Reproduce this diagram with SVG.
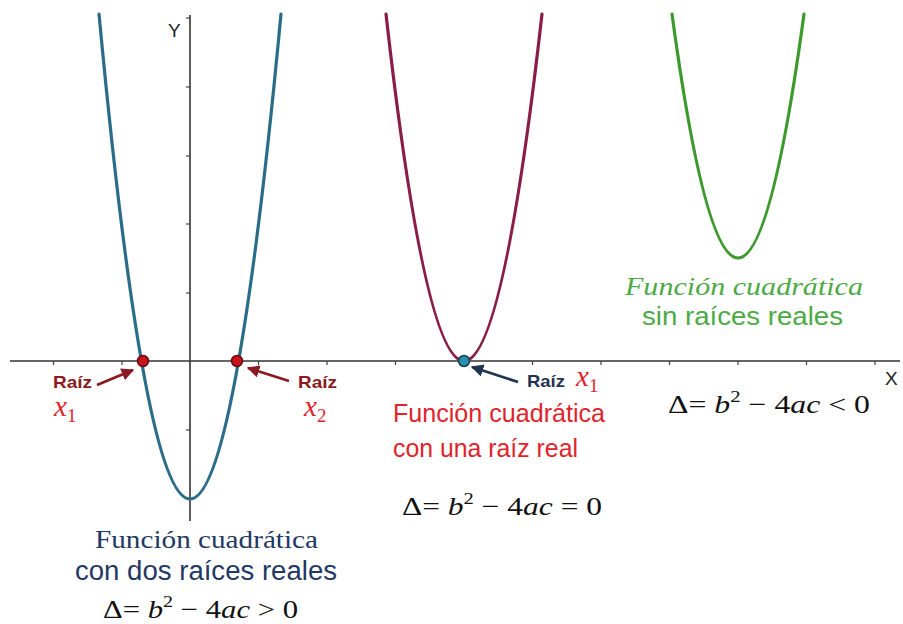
<svg xmlns="http://www.w3.org/2000/svg" width="903" height="624" viewBox="0 0 903 624">
<style>
.axis{stroke:#333;stroke-width:1.6;fill:none}
.tick{stroke:#444;stroke-width:1.2}
.curve{fill:none;stroke-width:3.2;stroke-linecap:round}
.sans{font-family:"Liberation Sans",Arial,sans-serif}
.serif{font-family:"Liberation Serif","Times New Roman",serif}
.raiz{font-family:"Liberation Sans",Arial,sans-serif;font-weight:bold;font-size:17px}
.ax{font-family:"Liberation Sans",Arial,sans-serif;font-size:19px;fill:#222}
.math{font-family:"Liberation Serif","Times New Roman",serif;font-size:26px;fill:#111}
.it{font-style:italic}
.xv{font-family:"Liberation Serif","Times New Roman",serif;font-style:italic;font-size:29px;fill:#e0242c}
.sub{font-size:19px;font-style:normal}
</style>
<defs>
<marker id="ahRed" viewBox="0 0 10 10" refX="9" refY="5" markerWidth="4.5" markerHeight="4.5" orient="auto"><path d="M0,0 L10,5 L0,10 z" fill="#8b1a22"/></marker>
<marker id="ahNavy" viewBox="0 0 10 10" refX="9" refY="5" markerWidth="4.5" markerHeight="4.5" orient="auto"><path d="M0,0 L10,5 L0,10 z" fill="#1f3550"/></marker>
</defs>
<rect width="903" height="624" fill="#fff"/>

<g id="axes">
<line class="axis" x1="10" y1="361" x2="900" y2="361"/>
<line class="axis" x1="190" y1="15" x2="190" y2="521"/>
<g class="tick">
<line x1="53.5" y1="361" x2="53.5" y2="365"/>
<line x1="122" y1="361" x2="122" y2="365"/>
<line x1="258.5" y1="361" x2="258.5" y2="365"/>
<line x1="327" y1="361" x2="327" y2="365"/>
<line x1="395.5" y1="361" x2="395.5" y2="365"/>
<line x1="532.5" y1="361" x2="532.5" y2="365"/>
<line x1="601" y1="361" x2="601" y2="365"/>
<line x1="669.5" y1="361" x2="669.5" y2="365"/>
<line x1="738" y1="361" x2="738" y2="365"/>
<line x1="806.5" y1="361" x2="806.5" y2="365"/>
<line x1="875" y1="361" x2="875" y2="365"/>
<line x1="186" y1="18" x2="190" y2="18"/>
<line x1="186" y1="87" x2="190" y2="87"/>
<line x1="186" y1="156" x2="190" y2="156"/>
<line x1="186" y1="224" x2="190" y2="224"/>
<line x1="186" y1="293" x2="190" y2="293"/>
<line x1="186" y1="430" x2="190" y2="430"/>
</g>
<text class="ax" x="168" y="37">Y</text>
<text class="ax" x="885" y="385">X</text>
</g>

<g id="curves">
<path id="blue-parabola" class="curve" stroke="#2b6d88" d="M99,14 Q190,984 281,14"/>
<path id="purple-parabola" class="curve" stroke="#8a1c48" stroke-width="2.8" d="M386,14 Q464,708 542,14"/>
<path id="green-parabola" class="curve" stroke="#3c9a2c" d="M672,14 Q738,502 804,14"/>
</g>

<g id="connectors">
<line x1="97" y1="385" x2="133" y2="370" stroke="#8b1a22" stroke-width="2.8" marker-end="url(#ahRed)"/>
<line x1="289" y1="381" x2="248" y2="368" stroke="#8b1a22" stroke-width="2.8" marker-end="url(#ahRed)"/>
<line x1="518" y1="382" x2="472" y2="367" stroke="#1f3550" stroke-width="2.8" marker-end="url(#ahNavy)"/>
</g>

<g id="root-x1-left">
<circle cx="143" cy="361" r="5.5" fill="#c8141e" stroke="#6a0a10" stroke-width="1.5"/>
<text class="raiz" x="53" y="388" fill="#8b1a22" textLength="39" lengthAdjust="spacingAndGlyphs">Raíz</text>
<text class="xv" x="54" y="416">x<tspan class="sub" dy="6">1</tspan></text>
</g>

<g id="root-x2-left">
<circle cx="237" cy="361" r="5.5" fill="#c8141e" stroke="#6a0a10" stroke-width="1.5"/>
<text class="raiz" x="298" y="388" fill="#8b1a22" textLength="39" lengthAdjust="spacingAndGlyphs">Raíz</text>
<text class="xv" x="304" y="416">x<tspan class="sub" dy="6">2</tspan></text>
</g>

<g id="root-middle">
<circle cx="464" cy="361" r="5.5" fill="#2a90b0" stroke="#1a3a50" stroke-width="1.5"/>
<text class="raiz" x="527" y="387" fill="#1f3550" textLength="38" lengthAdjust="spacingAndGlyphs">Raíz</text>
<text class="xv" x="576" y="386">x<tspan class="sub" dy="6">1</tspan></text>
</g>

<g id="label-two-roots">
<text class="serif" x="95" y="548" font-size="26" fill="#1f3864" textLength="223" lengthAdjust="spacingAndGlyphs">Función cuadrática</text>
<text class="sans" x="75" y="580" font-size="27" fill="#1f3864" textLength="262" lengthAdjust="spacingAndGlyphs">con dos raíces reales</text>
<text class="math" x="103" y="618" textLength="195" lengthAdjust="spacingAndGlyphs">Δ= <tspan class="it">b</tspan><tspan font-size="17" dy="-11">2</tspan><tspan dy="11"> − 4</tspan><tspan class="it">ac</tspan> &gt; 0</text>
</g>

<g id="label-one-root">
<text class="sans" x="393" y="422" font-size="25" fill="#e0242c" textLength="212" lengthAdjust="spacingAndGlyphs">Función cuadrática</text>
<text class="sans" x="393" y="457" font-size="25" fill="#e0242c" textLength="185" lengthAdjust="spacingAndGlyphs">con una raíz real</text>
<text class="math" x="402" y="515" textLength="200" lengthAdjust="spacingAndGlyphs">Δ= <tspan class="it">b</tspan><tspan font-size="17" dy="-11">2</tspan><tspan dy="11"> − 4</tspan><tspan class="it">ac</tspan> = 0</text>
</g>

<g id="label-no-roots">
<text class="serif it" x="625" y="295" font-size="26" fill="#4caa44" textLength="238" lengthAdjust="spacingAndGlyphs">Función cuadrática</text>
<text class="sans" x="642" y="325" font-size="25" fill="#4caa44" textLength="201" lengthAdjust="spacingAndGlyphs">sin raíces reales</text>
<text class="math" x="668" y="413" textLength="202" lengthAdjust="spacingAndGlyphs">Δ= <tspan class="it">b</tspan><tspan font-size="17" dy="-11">2</tspan><tspan dy="11"> − 4</tspan><tspan class="it">ac</tspan> &lt; 0</text>
</g>
</svg>
